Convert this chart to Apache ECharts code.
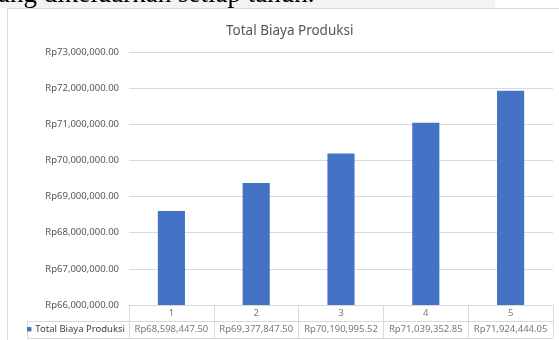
<!DOCTYPE html>
<html>
<head>
<meta charset="utf-8">
<script src="https://cdn.jsdelivr.net/npm/echarts@6/dist/echarts.min.js"></script>
<style>
html,body{margin:0;padding:0;background:#fff;}
#c{width:559px;height:340px;}
</style>
</head>
<body>
<div id="c"></div>
<script>
const chartTitle = 'Total Biaya Produksi';
const seriesName = 'Total Biaya Produksi';
const categories = ['1', '2', '3', '4', '5'];
const totalBiaya = [68598447.50, 69377847.50, 70190995.52, 71039352.85, 71924444.05];
const yMin = 66000000, yMax = 73000000, yStep = 1000000;
const tableRows = ['val', 'cat'];

function rp(v) {
  const parts = Number(v).toFixed(2).split('.');
  parts[0] = parts[0].replace(/\B(?=(\d{3})+(?!\d))/g, ',');
  return 'Rp' + parts[0] + '.' + parts[1];
}

const FONT = 'Noto Sans';
const lineCol = '#d9d9d9';
const txtCol = '#555555';

const tableData = [];
categories.forEach((c, i) => {
  tableData.push({ value: [i, 'cat'], label: { formatter: c } });
  tableData.push({ value: [i, 'val'], label: { formatter: rp(totalBiaya[i]) } });
});

const chart = echarts.init(document.getElementById('c'));
chart.setOption({
  animation: false,
  backgroundColor: '#fff',
  title: {
    text: chartTitle,
    left: 221, top: 19,
    textStyle: { fontFamily: FONT, fontSize: 13.5, fontWeight: 'normal', color: txtCol }
  },
  graphic: [
    { type: 'rect', shape: { x: 0, y: 0, width: 495, height: 8 }, style: { fill: '#f3f3f3' }, silent: true },
    { type: 'text', left: -2, top: -19, style: { text: 'ang dikeluarkan setiap tahun.', font: '27px "Liberation Serif"', fill: '#000' } },
    { type: 'rect', shape: { x: 0, y: 9, width: 559, height: 14 }, style: { fill: '#fff' }, silent: true },
    { type: 'line', shape: { x1: 7, y1: 8.5, x2: 559, y2: 8.5 }, style: { stroke: lineCol, lineWidth: 1 } },
    { type: 'line', shape: { x1: 7.5, y1: 8, x2: 7.5, y2: 340 }, style: { stroke: lineCol, lineWidth: 1 } },
    { type: 'line', shape: { x1: 27, y1: 321.5, x2: 129, y2: 321.5 }, style: { stroke: lineCol, lineWidth: 1 } },
    { type: 'line', shape: { x1: 27, y1: 338.5, x2: 129, y2: 338.5 }, style: { stroke: lineCol, lineWidth: 1 } },
    { type: 'line', shape: { x1: 27.5, y1: 321, x2: 27.5, y2: 339 }, style: { stroke: lineCol, lineWidth: 1 } }
  ],
  grid: [
    { left: 129, right: 6, top: 52, bottom: 35 },
    { left: 129, right: 6, top: 305, height: 33 }
  ],
  xAxis: [
    {
      type: 'category', data: categories, gridIndex: 0,
      axisLine: { show: true, lineStyle: { color: lineCol } },
      axisTick: { show: false }, axisLabel: { show: false }
    },
    {
      type: 'category', data: categories, gridIndex: 1,
      axisLine: { show: false }, axisTick: { show: false }, axisLabel: { show: false },
      splitLine: { show: true, lineStyle: { color: lineCol } }
    }
  ],
  yAxis: [
    {
      type: 'value', gridIndex: 0, min: yMin, max: yMax, interval: yStep,
      axisLine: { show: false }, axisTick: { show: false },
      axisLabel: { formatter: v => rp(v), fontFamily: FONT, fontSize: 9.5, color: txtCol, margin: 10 },
      splitLine: { lineStyle: { color: lineCol } }
    },
    {
      type: 'category', data: tableRows, gridIndex: 1,
      axisLine: { show: true, lineStyle: { color: lineCol } }, axisTick: { show: false },
      splitLine: { show: true, lineStyle: { color: lineCol } },
      axisLabel: {
        margin: 4,
        formatter: v => v === 'val' ? '{sq|■} {t|' + seriesName + '}' : '',
        rich: {
          sq: { color: '#4472C4', fontSize: 9, fontFamily: FONT },
          t: { color: '#404040', fontSize: 9.5, fontFamily: FONT }
        }
      }
    }
  ],
  series: [
    {
      name: seriesName, type: 'bar', data: totalBiaya,
      xAxisIndex: 0, yAxisIndex: 0,
      barWidth: '32%',
      itemStyle: { color: '#4472C4' }
    },
    {
      type: 'scatter', xAxisIndex: 1, yAxisIndex: 1,
      symbolSize: 0, data: tableData,
      label: { show: true, position: 'inside', fontFamily: FONT, fontSize: 9.5, color: txtCol }
    }
  ]
});
</script>
</body>
</html>
